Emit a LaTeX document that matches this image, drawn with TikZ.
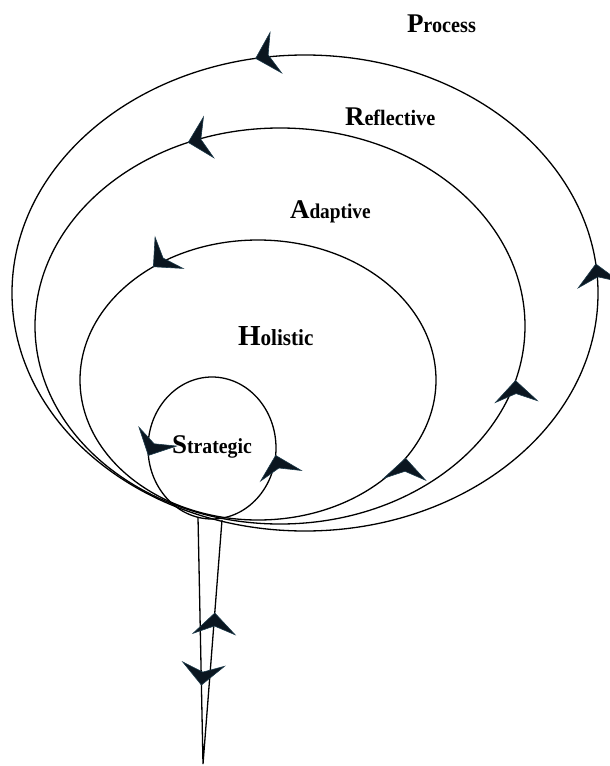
\documentclass[tikz,border=0pt]{standalone}
\usepackage{fontspec}
\setmainfont{Liberation Serif}
\newfontfamily\condfont[FakeStretch=0.92]{Liberation Serif}
\definecolor{chevfill}{HTML}{0B1620}
\definecolor{chevedge}{HTML}{1C3A4A}
\newcommand\chevat[3]{%
  \fill[chev,shift={(#1,#2)},rotate=#3] (0,0) -- (-21,21) -- (-13,0) -- (-21,-21) -- cycle;}
% centre x, centre y, x radius, y radius, parameter angle, extra rotation
\newcommand\echev[6]{%
  \pgfmathsetmacro\ex{#1+#3*cos(#5)}%
  \pgfmathsetmacro\ey{#2+#4*sin(#5)}%
  \pgfmathsetmacro\ea{atan2(#4*cos(#5),-#3*sin(#5))+#6}%
  \chevat{\ex}{\ey}{\ea}}
\newcommand\lbl[4]{{\fontsize{#3}{#3}\selectfont\bfseries #1}{\condfont\fontsize{#4}{#4}\selectfont\bfseries #2}}
\begin{document}
\begin{tikzpicture}[x=1pt,y=1pt,
  ring/.style={line width=1.3pt,black},
  chev/.style={fill=chevfill,draw=chevedge,line width=0.6pt,line join=miter},
  lab/.style={anchor=base west,inner sep=0pt,outer sep=0pt}]
\useasboundingbox (0,0) rectangle (610,-766);
% ellipses
\draw[ring] (305,-293) ellipse [x radius=293, y radius=238];
\draw[ring] (280,-326) ellipse [x radius=245, y radius=198];
\draw[ring] (258,-380) ellipse [x radius=178, y radius=140];
\draw[ring] (212,-448) ellipse [x radius=64, y radius=71];
% tail lines
\coordinate (tl) at (198,-517);
\coordinate (tr) at (222,-520);
\coordinate (tb) at (203,-764);
\draw[ring] (tl) -- (tb) -- (tr);
% chevrons on ellipses
\echev{305}{-293}{293}{238}{99.7}{8}
\echev{305}{-293}{293}{238}{7}{0}
\echev{280}{-326}{245}{198}{112}{-4}
\echev{280}{-326}{245}{198}{-16}{22}
\echev{258}{-380}{178}{140}{126}{12}
\echev{258}{-380}{178}{140}{-34}{38}
\echev{212}{-448}{64}{71}{186}{-32}
\echev{212}{-448}{64}{71}{-6}{20}
% chevrons on tail
\chevat{214.8}{-613}{88}
\chevat{201.4}{-685}{-96}
% labels
\node[lab] (process) at (407,-32) {\lbl{P}{rocess}{27}{22}};
\node[lab] (reflective) at (345,-125) {\lbl{R}{eflective}{27}{22}};
\node[lab] (adaptive) at (290,-218) {\lbl{A}{daptive}{27}{21}};
\node[lab] (holistic) at (238,-345) {\lbl{H}{olistic}{29}{23}};
\node[lab] (strategic) at (172,-453) {\lbl{S}{trategic}{27}{21.5}};
\end{tikzpicture}
\end{document}
